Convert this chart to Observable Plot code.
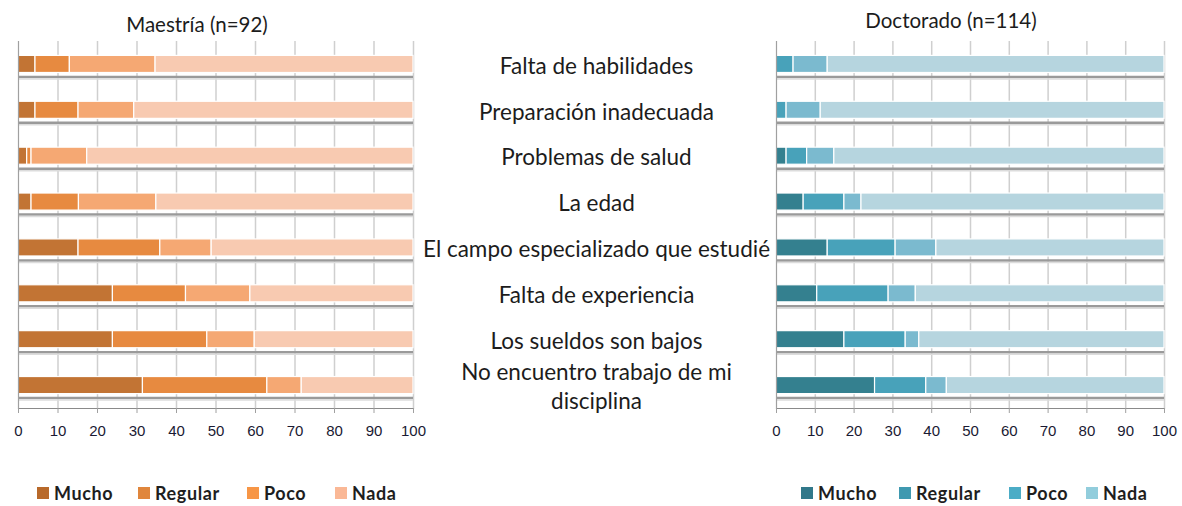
<!DOCTYPE html>
<html><head><meta charset="utf-8">
<script src="https://cdn.jsdelivr.net/npm/d3@7"></script>
<script src="https://cdn.jsdelivr.net/npm/@observablehq/plot@0.6"></script>
<style>
body{margin:0;width:1182px;height:506px;position:relative;background:#fff;overflow:hidden;font-family:Lato,"Open Sans",sans-serif}
.abs{position:absolute}
.abs svg{display:block}
.title{position:absolute;font-size:20.5px;line-height:1;color:#1c1c1c;white-space:nowrap;transform:translateX(-50%)}
.leg{position:absolute;display:flex;align-items:center;gap:5px;font-weight:bold;font-size:18px;letter-spacing:0.6px;color:#1e1e1e;line-height:1}
.leg .sw{width:12px;height:12px;display:inline-block}
</style></head><body>
<div class="title" style="left:197px;top:14px">Maestría (n=92)</div>
<div class="title" style="left:951px;top:10px">Doctorado (n=114)</div>
<div id="left" class="abs" style="left:0;top:36px"></div>
<div id="right" class="abs" style="left:760px;top:36px"></div>
<div id="legends"></div>
<script>
const categories = ["Falta de habilidades","Preparación inadecuada","Problemas de salud","La edad","El campo especializado que estudié","Falta de experiencia","Los sueldos son bajos","No encuentro trabajo de mi disciplina"];
const levels = ["Mucho","Regular","Poco","Nada"];
const ticks = [0,10,20,30,40,50,60,70,80,90,100];

// Maestría (n=92), percentages
const maeMucho   = [4.3, 4.3, 2.2, 3.3, 15.2, 23.9, 23.9, 31.5];
const maeRegular = [8.7, 10.9, 1.1, 12.0, 20.7, 18.5, 23.9, 31.5];
const maePoco    = [21.7, 14.1, 14.1, 19.6, 13.0, 16.3, 12.0, 8.7];
const maeNada    = [65.3, 70.7, 82.6, 65.1, 51.1, 41.3, 40.2, 28.3];

// Doctorado (n=114), percentages
const docMucho   = [0, 0, 2.6, 7.0, 13.2, 10.5, 17.5, 25.4];
const docRegular = [4.4, 2.6, 5.3, 10.5, 17.5, 18.4, 15.8, 13.2];
const docPoco    = [8.8, 8.8, 7.0, 4.4, 10.5, 7.0, 3.5, 5.3];
const docNada    = [86.8, 88.6, 85.1, 78.1, 58.8, 64.1, 63.2, 56.1];

const maeColors = ["#c27434","#e78a40","#f5a873","#f8cab1"];
const docColors = ["#34808f","#48a2ba","#7bbacf","#b6d5df"];
const maeLegendColors = ["#b8692a","#e0863c","#f79646","#fab896"];
const docLegendColors = ["#31788a","#3f99b0","#4bacc6","#92cddc"];

function table(series){
  const rows = [];
  categories.forEach((c,i)=>levels.forEach((l,j)=>rows.push({category:c, level:l, value:series[j][i]})));
  return rows;
}

function chart(data, colors, opts){
  const yAxis = opts.labels ? [Plot.axisY({anchor:"right", tickSize:0, tickPadding:0, dx:183, textAnchor:"middle", fontSize:22.5, fill:"#1c1c1c", fontFamily:"Lato", lineHeight:1.29,
      tickFormat: d => d === "No encuentro trabajo de mi disciplina" ? "No encuentro trabajo de mi\ndisciplina" : d})] : [Plot.axisY({ticks:[]})];
  return Plot.plot({
    width: opts.width, height: 422,
    marginLeft: opts.ml, marginRight: opts.mr, marginTop: 5, marginBottom: 50,
    style: {fontFamily: "Liberation Sans, Arial, sans-serif", overflow: "visible"},
    x: {domain:[0,100], ticks: ticks, label: null},
    y: {domain: categories, padding: 0, round: false, label: null},
    color: {domain: levels, range: colors},
    marks: [
      Plot.gridX(ticks.slice(1), {stroke:"#cfcfcf", strokeOpacity:1, strokeWidth:1.5}),
      Plot.ruleY(categories, {y: d=>d, dy: 12.5, stroke:"#9a9a9a", strokeWidth:2.5}),
      Plot.ruleY(categories, {y: d=>d, dy: 14.5, stroke:"#dcdcdc", strokeWidth:1.5}),
      Plot.barX(data, Plot.stackX({x:"value", y:"category", fill:"level", order: levels, insetTop:14.4, insetBottom:14.4, stroke:"#fff", strokeWidth:1.2})),
      Plot.ruleX([0], {stroke:"#a0a0a0", strokeWidth:1.2}),
      Plot.frame({anchor:"bottom", stroke:"#8a8a8a", strokeWidth:1.2}),
      Plot.axisX({ticks: ticks, tickSize:5, tickPadding:12, stroke:"#a0a0a0", fontSize:15, fill:"#1a1a33", fontFamily:"Liberation Sans, Arial, sans-serif"}),
      ...yAxis
    ]
  });
}

document.getElementById("left").append(chart(table([maeMucho,maeRegular,maePoco,maeNada]), maeColors, {width:770, ml:18, mr:357, labels:true}));
document.getElementById("right").append(chart(table([docMucho,docRegular,docPoco,docNada]), docColors, {width:422, ml:16, mr:18, labels:false}));

// legend item left positions (px) for each panel
const legLeftPos = [37, 138, 247, 335];
const legRightPos = [801, 899, 1009, 1086];
function legend(colors, pos){
  const root = document.getElementById("legends");
  levels.forEach((l,i)=>{
    const it = document.createElement("div"); it.className="leg";
    it.style.left = pos[i] + "px"; it.style.top = "484px";
    const sw = document.createElement("span"); sw.className="sw"; sw.style.background=colors[i];
    const t = document.createElement("span"); t.textContent=l;
    it.append(sw,t); root.append(it);
  });
}
legend(maeLegendColors, legLeftPos);
legend(docLegendColors, legRightPos);
</script>
</body></html>
